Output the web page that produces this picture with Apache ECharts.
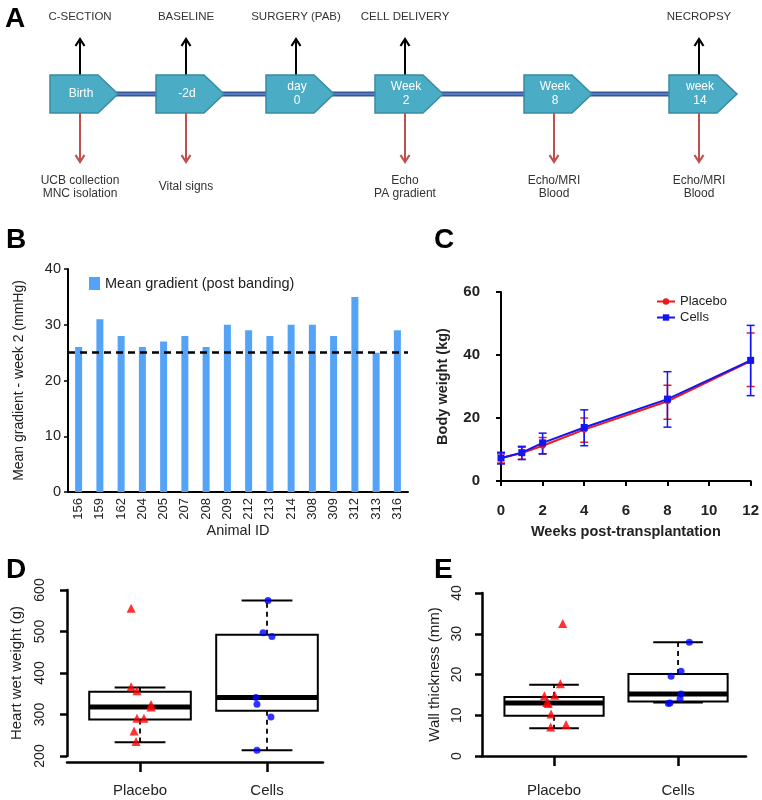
<!DOCTYPE html>
<html><head><meta charset="utf-8">
<script src="https://cdn.jsdelivr.net/npm/echarts@6/dist/echarts.min.js"></script>
<style>html,body{margin:0;padding:0;background:#fff}#c{width:762px;height:800px}</style>
</head><body><div id="c"></div><script>
// ---------- Panel A (timeline) ----------
const eventBoxLabels = ['Birth', '-2d', 'day\n0', 'Week\n2', 'Week\n8', 'week\n14'];
const eventTopLabels = ['C-SECTION', 'BASELINE', 'SURGERY (PAB)', 'CELL DELIVERY', '', 'NECROPSY'];
const eventBottomLabels = ['UCB collection\nMNC isolation', 'Vital signs', '', 'Echo\nPA gradient', 'Echo/MRI\nBlood', 'Echo/MRI\nBlood'];

// ---------- Panel B ----------
const animalIds = ['156','159','162','204','205','207','208','209','212','213','214','308','309','312','313','316'];
const meanGradient = [26, 31, 28, 26, 27, 28, 26, 30, 29, 28, 30, 30, 28, 35, 25, 29];
const gradientThreshold = 25;
const gradientTicks = [0, 10, 20, 30, 40];

// ---------- Panel C ----------
const weeks = [0, 1, 2, 4, 8, 12];
const placeboMean = [7.2, 8.9, 11.2, 16.3, 25.3, 38.1];
const placeboLow  = [5.7, 6.9, 8.6, 12.3, 19.6, 30.0];
const placeboHigh = [8.7, 10.7, 13.8, 20.0, 30.4, 47.0];
const cellsMean = [7.3, 9.0, 12.1, 17.0, 26.0, 38.3];
const cellsLow  = [5.4, 6.8, 8.6, 11.2, 17.1, 27.1];
const cellsHigh = [9.1, 11.0, 15.2, 22.6, 34.7, 49.4];

// ---------- Panel D ----------
const groups = ['Placebo', 'Cells'];
const heartPlaceboBox = [233, 288, 318, 355, 365];   // low whisker, Q1, median, Q3, high whisker
const heartCellsBox   = [214, 309, 341, 492, 575];
const heartPlacebo = [556, 367, 357, 324, 318, 291, 291, 260, 235];
const heartPlaceboJitter = [-0.07, -0.07, -0.024, 0.087, 0.087, -0.024, 0.031, -0.047, -0.031];
const heartCells = [575, 497, 488, 341, 325, 294, 214];
const heartCellsJitter = [0.008, -0.031, 0.039, -0.087, -0.079, 0.031, -0.079];

// ---------- Panel E ----------
const wallPlaceboBox = [6.8, 9.9, 13.0, 14.5, 17.5];
const wallCellsBox   = [13.1, 13.4, 15.2, 20.1, 27.9];
const wallPlacebo = [32.5, 17.7, 14.8, 14.9, 13.1, 12.9, 10.3, 7.1, 7.7];
const wallPlaceboJitter = [0.07, 0.051, -0.078, 0.005, -0.059, -0.046, -0.024, -0.027, 0.097];
const wallCells = [27.9, 20.8, 19.6, 15.2, 14.0, 13.0, 12.9];
const wallCellsJitter = [0.091, 0.024, -0.056, 0.024, 0.016, -0.065, -0.078];

// ================= layout / styling =================
const FONT = '"Liberation Sans", Arial, Helvetica, sans-serif';
const TXT = '#222';
const eventX = [80, 186, 296, 405, 554, 699];
const boxTop = 75, boxBot = 113, midY = 94;

const graphic = [];
function arrowUp(x, y1, y2, color) {
  graphic.push({type:'line', shape:{x1:x, y1:y1, x2:x, y2:y2+1}, style:{stroke:color, lineWidth:2}});
  graphic.push({type:'polyline', shape:{points:[[x-4.5, y2+7],[x, y2],[x+4.5, y2+7]]}, style:{stroke:color, lineWidth:2.2, fill:null}});
}
function arrowDown(x, y1, y2, color) {
  graphic.push({type:'line', shape:{x1:x, y1:y1, x2:x, y2:y2-1}, style:{stroke:color, lineWidth:2}});
  graphic.push({type:'polyline', shape:{points:[[x-4.5, y2-7],[x, y2],[x+4.5, y2-7]]}, style:{stroke:color, lineWidth:2.2, fill:null}});
}
eventX.forEach((x, i) => {
  if (i < eventX.length - 1) {
    const xa = x + 36, xb = eventX[i+1] - 30;
    graphic.push({type:'line', shape:{x1:xa, y1:midY, x2:xb, y2:midY}, style:{stroke:'#34569a', lineWidth:5}, z:1});
    graphic.push({type:'line', shape:{x1:xa, y1:midY, x2:xb, y2:midY}, style:{stroke:'#6486c8', lineWidth:1.5}, z:2});
  }
  graphic.push({type:'polygon', z:5, shape:{points:[[x-30,boxTop],[x+18,boxTop],[x+38,midY],[x+18,boxBot],[x-30,boxBot]]},
    style:{fill:'#4bacc6', stroke:'#3a8ba3', lineWidth:1.5}});
  graphic.push({type:'text', z:6, x:x+1, y:midY, style:{text:eventBoxLabels[i], fill:'#fff', font:'12px ' + FONT, align:'center', verticalAlign:'middle', lineHeight:14}});
  if (eventTopLabels[i]) {
    arrowUp(x, boxTop, 39, '#000');
    graphic.push({type:'text', x:x, y:17, style:{text:eventTopLabels[i], fill:'#333', font:'11.5px ' + FONT, align:'center', verticalAlign:'middle'}});
  }
  if (eventBottomLabels[i]) {
    arrowDown(x, boxBot, 162, '#c0504d');
    graphic.push({type:'text', x:x, y:187, style:{text:eventBottomLabels[i], fill:'#333', font:'12px ' + FONT, align:'center', verticalAlign:'middle', lineHeight:13.5}});
  }
});
[['A',5,5],['B',6,226],['C',434,226],['D',6,556],['E',434,556]].forEach(p => {
  graphic.push({type:'text', x:p[1], y:p[2], style:{text:p[0], fill:'#000', font:'bold 28px ' + FONT, align:'left', verticalAlign:'top'}});
});

// ================= helpers =================
function boxRender(params, api) {
  const x = api.value(0);
  const c = v => api.coord([x, v]);
  const pLo = c(api.value(1)), pQ1 = c(api.value(2)), pMd = c(api.value(3)), pQ3 = c(api.value(4)), pHi = c(api.value(5));
  const hw = api.size([0.4, 0])[0], cw = api.size([0.2, 0])[0];
  const cx = pMd[0];
  const dash = {stroke:'#000', lineWidth:1.8, lineDash:[5, 4]};
  const solid = {stroke:'#000', lineWidth:2};
  return {type:'group', children:[
    {type:'line', shape:{x1:cx, y1:pQ3[1], x2:cx, y2:pHi[1]}, style:dash},
    {type:'line', shape:{x1:cx, y1:pQ1[1], x2:cx, y2:pLo[1]}, style:dash},
    {type:'line', shape:{x1:cx-cw, y1:pHi[1], x2:cx+cw, y2:pHi[1]}, style:solid},
    {type:'line', shape:{x1:cx-cw, y1:pLo[1], x2:cx+cw, y2:pLo[1]}, style:solid},
    {type:'rect', shape:{x:cx-hw, y:pQ3[1], width:2*hw, height:pQ1[1]-pQ3[1]}, style:{fill:'#fff', stroke:'#000', lineWidth:2}},
    {type:'line', shape:{x1:cx-hw, y1:pMd[1], x2:cx+hw, y2:pMd[1]}, style:{stroke:'#000', lineWidth:5}}
  ]};
}
function errRender(color) {
  return function (params, api) {
    const x = api.value(0);
    const lo = api.coord([x, api.value(1)]), hi = api.coord([x, api.value(2)]);
    const w = 4;
    const st = {stroke:color, lineWidth:1.5};
    return {type:'group', children:[
      {type:'line', shape:{x1:lo[0], y1:lo[1], x2:hi[0], y2:hi[1]}, style:st},
      {type:'line', shape:{x1:lo[0]-w, y1:lo[1], x2:lo[0]+w, y2:lo[1]}, style:st},
      {type:'line', shape:{x1:hi[0]-w, y1:hi[1], x2:hi[0]+w, y2:hi[1]}, style:st}
    ]};
  };
}
const blackLine = w => ({show:true, lineStyle:{color:'#000', width:w}});

// ================= chart =================
const chart = echarts.init(document.getElementById('c'), null, {renderer:'canvas'});
chart.setOption({
  animation:false,
  backgroundColor:'#fff',
  textStyle:{fontFamily:FONT},
  graphic: graphic,
  legend:[
    {data:['Mean gradient (post banding)'], left:84, top:271, icon:'rect', itemWidth:11, itemHeight:13, itemGap:5,
     textStyle:{fontSize:14.5, color:TXT, fontFamily:FONT}},
    {data:['Placebo','Cells'], orient:'vertical', left:651, top:290, itemWidth:18, itemHeight:8, itemGap:3,
     textStyle:{fontSize:13, color:TXT, fontFamily:FONT}}
  ],
  grid:[
    {left:68, width:340, top:269, height:223},
    {left:501, width:250, top:292, height:189},
    {left:67, width:256, top:590, height:166},
    {left:482, width:264, top:593, height:163}
  ],
  xAxis:[
    {gridIndex:0, type:'category', data:animalIds, axisLine:blackLine(2),
     axisTick:{alignWithLabel:true, length:5, lineStyle:{color:'#000', width:1.5}},
     axisLabel:{rotate:90, fontSize:13, color:TXT, margin:6, fontFamily:FONT},
     name:'Animal ID', nameLocation:'middle', nameGap:31, nameTextStyle:{fontSize:14.5, color:TXT, fontFamily:FONT}},
    {gridIndex:1, type:'value', min:0, max:12, interval:2, offset:15, axisLine:blackLine(2),
     axisTick:{show:true, length:5, lineStyle:{color:'#000', width:2}},
     axisLabel:{fontSize:15, fontWeight:'bold', color:TXT, margin:7, fontFamily:FONT},
     splitLine:{show:false},
     name:'Weeks post-transplantation', nameLocation:'middle', nameGap:28,
     nameTextStyle:{fontSize:14.5, fontWeight:'bold', color:TXT, fontFamily:FONT}},
    {gridIndex:2, type:'value', min:0.425, max:2.441, offset:6, axisLine:blackLine(2.5),
     axisTick:{show:true, customValues:[1,2], length:10, lineStyle:{color:'#000', width:2.5}},
     axisLabel:{customValues:[1,2], formatter:v => groups[Math.round(v)-1], fontSize:15, color:TXT, margin:21, fontFamily:FONT},
     splitLine:{show:false}},
    {gridIndex:3, type:'value', min:0.419, max:2.548, offset:6, axisLine:blackLine(2.5),
     axisTick:{show:true, customValues:[1,2], length:10, lineStyle:{color:'#000', width:2.5}},
     axisLabel:{customValues:[1,2], formatter:v => groups[Math.round(v)-1], fontSize:15, color:TXT, margin:21, fontFamily:FONT},
     splitLine:{show:false}}
  ],
  yAxis:[
    {gridIndex:0, type:'value', min:gradientTicks[0], max:gradientTicks[gradientTicks.length-1], interval:10, axisLine:blackLine(2),
     axisTick:{show:true, length:4, lineStyle:{color:'#000', width:1.5}},
     axisLabel:{fontSize:14.5, color:TXT, margin:7, fontFamily:FONT}, splitLine:{show:false},
     name:'Mean gradient - week 2 (mmHg)', nameLocation:'middle', nameGap:42,
     nameTextStyle:{fontSize:14, color:TXT, fontFamily:FONT}},
    {gridIndex:1, type:'value', min:0, max:60, interval:20, offset:14, axisLine:blackLine(2),
     axisTick:{show:true, length:5, lineStyle:{color:'#000', width:2}},
     axisLabel:{fontSize:15, fontWeight:'bold', color:TXT, margin:7, fontFamily:FONT}, splitLine:{show:false},
     name:'Body weight (kg)', nameLocation:'middle', nameGap:37,
     nameTextStyle:{fontSize:14.5, fontWeight:'bold', color:TXT, fontFamily:FONT}},
    {gridIndex:2, type:'value', min:200, max:600, interval:100, axisLine:blackLine(2.5),
     axisTick:{show:true, length:7, lineStyle:{color:'#000', width:2.5}},
     axisLabel:{rotate:90, fontSize:14, color:TXT, margin:20, fontFamily:FONT}, splitLine:{show:false},
     name:'Heart wet weight (g)', nameLocation:'middle', nameGap:43,
     nameTextStyle:{fontSize:15, color:TXT, fontFamily:FONT}},
    {gridIndex:3, type:'value', min:0, max:40, interval:10, axisLine:blackLine(2.5),
     axisTick:{show:true, length:7, lineStyle:{color:'#000', width:2.5}},
     axisLabel:{rotate:90, fontSize:14, color:TXT, margin:18, fontFamily:FONT}, splitLine:{show:false},
     name:'Wall thickness (mm)', nameLocation:'middle', nameGap:40,
     nameTextStyle:{fontSize:15, color:TXT, fontFamily:FONT}}
  ],
  series:[
    {name:'Mean gradient (post banding)', type:'bar', xAxisIndex:0, yAxisIndex:0, data:meanGradient, barWidth:7,
     itemStyle:{color:'#55a3f7'},
     markLine:{silent:true, symbol:'none', label:{show:false}, lineStyle:{type:[7,5], color:'#000', width:2.5},
       data:[{yAxis:gradientThreshold}]}},

    {name:'PlaceboErr', type:'custom', xAxisIndex:1, yAxisIndex:1, renderItem:errRender('#f01818'),
     data:weeks.map((w,i)=>[w, placeboLow[i], placeboHigh[i]]), encode:{x:0, y:[1,2]}, z:3},
    {name:'CellsErr', type:'custom', xAxisIndex:1, yAxisIndex:1, renderItem:errRender('#1515f0'),
     data:weeks.map((w,i)=>[w, cellsLow[i], cellsHigh[i]]), encode:{x:0, y:[1,2]}, z:3},
    {name:'Placebo', type:'line', xAxisIndex:1, yAxisIndex:1, data:weeks.map((w,i)=>[w, placeboMean[i]]),
     symbol:'circle', symbolSize:6, color:'#f01818', lineStyle:{width:2}, z:4},
    {name:'Cells', type:'line', xAxisIndex:1, yAxisIndex:1, data:weeks.map((w,i)=>[w, cellsMean[i]]),
     symbol:'rect', symbolSize:7, color:'#1515f0', lineStyle:{width:2}, z:5},

    {name:'heartBox', type:'custom', xAxisIndex:2, yAxisIndex:2, renderItem:boxRender,
     data:[[1, ...heartPlaceboBox], [2, ...heartCellsBox]], encode:{x:0, y:[1,2,3,4,5]}},
    {name:'heartP', type:'scatter', xAxisIndex:2, yAxisIndex:2, symbol:'triangle', symbolSize:9, itemStyle:{color:'#ff0000'},
     data:heartPlacebo.map((v,i)=>[1 + heartPlaceboJitter[i], v]), z:5},
    {name:'heartC', type:'scatter', xAxisIndex:2, yAxisIndex:2, symbol:'circle', symbolSize:7, itemStyle:{color:'#0000ff'},
     data:heartCells.map((v,i)=>[2 + heartCellsJitter[i], v]), z:5},

    {name:'wallBox', type:'custom', xAxisIndex:3, yAxisIndex:3, renderItem:boxRender,
     data:[[1, ...wallPlaceboBox], [2, ...wallCellsBox]], encode:{x:0, y:[1,2,3,4,5]}},
    {name:'wallP', type:'scatter', xAxisIndex:3, yAxisIndex:3, symbol:'triangle', symbolSize:9, itemStyle:{color:'#ff0000'},
     data:wallPlacebo.map((v,i)=>[1 + wallPlaceboJitter[i], v]), z:5},
    {name:'wallC', type:'scatter', xAxisIndex:3, yAxisIndex:3, symbol:'circle', symbolSize:7, itemStyle:{color:'#0000ff'},
     data:wallCells.map((v,i)=>[2 + wallCellsJitter[i], v]), z:5}
  ]
});
</script></body></html>
